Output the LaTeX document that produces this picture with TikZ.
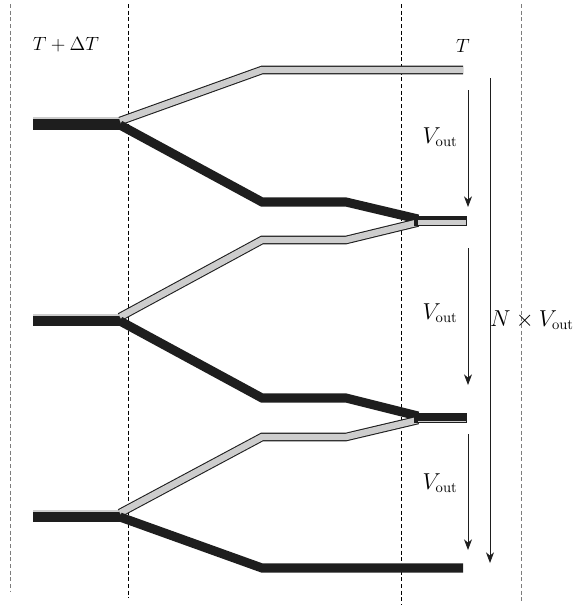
\documentclass[tikz,border=0pt]{standalone}
\definecolor{pipeLight}{RGB}{205,205,205}
\definecolor{pipeDark}{RGB}{30,30,30}
\definecolor{guideGray}{RGB}{125,125,125}
\usepackage{tikz}
\usepackage{amsmath}
\usetikzlibrary{arrows.meta,positioning,calc}

\begin{document}
\begin{tikzpicture}[x=0.75pt, y=-0.75pt,
    light/.style={draw=pipeDark, line width=0.8pt, double=pipeLight,
                  double distance=4.8pt},
    dark/.style={draw=pipeDark, line width=6.8pt},
    inlet/.style={draw=pipeDark, line width=8pt},
    guide/.style={dash pattern=on 3pt off 2pt, line width=0.5pt},
    flow/.style={-{Stealth[length=8pt, width=6pt, inset=2.5pt]},
                 line width=0.6pt, pipeDark},
    lbl/.style={font=\fontsize{14}{16}\selectfont, inner sep=0pt},
    vel/.style={font=\fontsize{16}{18}\selectfont, inner sep=0pt}
  ]
  \useasboundingbox (0,0) rectangle (574,607);

  % temperature zones
  \draw[guide, guideGray] (10,4) -- (10,592);
  \draw[guide] (128,4) -- (128,598);
  \draw[guide] (401,4) -- (401,605);
  \draw[guide, guideGray] (521,4) -- (521,603);

  \node[lbl] (hot)  at (66,45)  {$T + \Delta T$};
  \node[lbl] (cold) at (463,46) {$T$};

  % stage 1
  \draw[inlet] (33,124.5) -- (121,124.5);
  \draw[pipeLight, line width=1.2pt] (33,118) -- (120,118);
  \draw[light] (120,121) -- (262,70) -- (463,70);
  \draw[dark] (120,125) -- (262,202) -- (346,202) -- (418,219);

  % stage 2
  \draw[inlet] (33,321) -- (121,321);
  \draw[pipeLight, line width=1.2pt] (33,315) -- (120,315);
  \draw[light] (120,317) -- (262,240) -- (346,240) -- (418,222.5);
  \draw[dark] (120,321) -- (262,398) -- (346,398) -- (418,416);

  % stage 3
  \draw[inlet] (33,517) -- (121,517);
  \draw[pipeLight, line width=1.2pt] (33,511) -- (120,511);
  \draw[light] (120,513) -- (262,437) -- (346,437) -- (418,420);
  \draw[dark] (120,517) -- (262,568) -- (463,568);

  % merged outlets
  \draw[pipeDark, line width=7.5pt] (414,221) -- (467,221);
  \draw[pipeLight, line width=4.2pt] (418,222.3) -- (466,222.3);
  \draw[pipeDark, line width=7.5pt] (414,418) -- (467,418);
  \draw[pipeLight, line width=0.9pt] (418,421.6) -- (466,421.6);

  % velocities
  \coordinate (s1) at (468,90);  \coordinate (e1) at (468,207);
  \coordinate (s2) at (468,248); \coordinate (e2) at (468,385);
  \coordinate (s3) at (468,434); \coordinate (e3) at (468,550);
  \coordinate (sN) at (490,78);  \coordinate (eN) at (490,563);
  \draw[flow] (s1) -- (e1);
  \draw[flow] (s2) -- (e2);
  \draw[flow] (s3) -- (e3);
  \draw[flow] (sN) -- (eN);

  \node[vel] (v1) at (440,137) {$V_{\mathrm{out}}$};
  \node[vel] (v2) at (440,313) {$V_{\mathrm{out}}$};
  \node[vel] (v3) at (440,483) {$V_{\mathrm{out}}$};
  \node[vel] (vN) at (532,320) {$N \times V_{\mathrm{out}}$};
\end{tikzpicture}
\end{document}
